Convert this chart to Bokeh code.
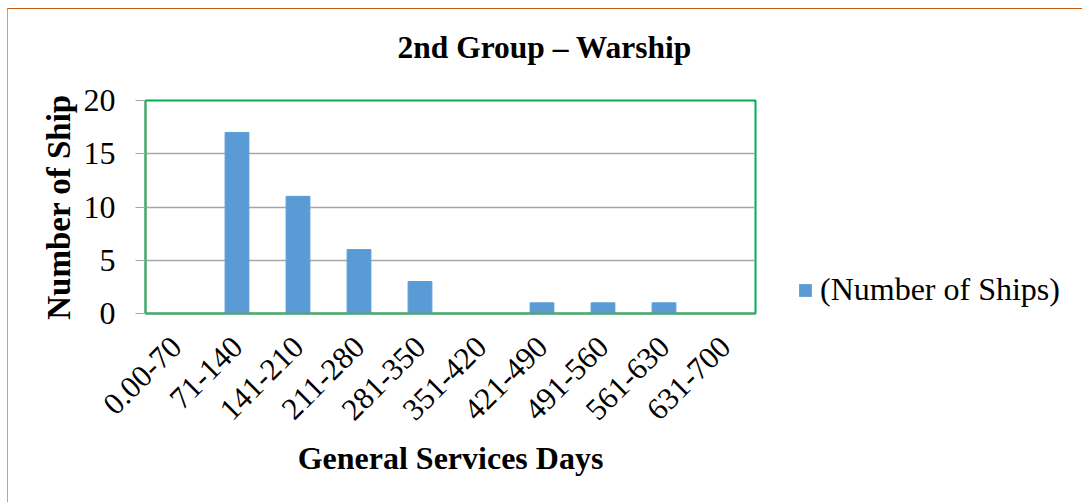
import math
from bokeh.plotting import figure
from bokeh.layouts import row
from bokeh.models import (FixedTicker, Range1d, FactorRange, Legend, LegendItem,
                          Title)
from bokeh.embed import file_html
from bokeh.resources import INLINE

categories = ["0.00-70", "71-140", "141-210", "211-280", "281-350",
              "351-420", "421-490", "491-560", "561-630", "631-700"]
ships = [0, 17, 11, 6, 3, 0, 1, 1, 1, 0]
y_ticks = [0, 5, 10, 15, 20]
title_text = "2nd Group \u2013 Warship"
x_title = "General Services Days"
y_title = "Number of Ship"
series_name = "(Number of Ships)"

SERIF = "Liberation Serif"
BAR = "#5B9BD5"

# main chart
p = figure(width=770, height=494, x_range=FactorRange(*categories),
           y_range=Range1d(0, 20), output_backend="svg", toolbar_location=None,
           min_border_left=137, min_border_right=23, min_border_top=91,
           min_border_bottom=190)
p.styles = {"margin-left": "7px", "margin-top": "8px",
            "border-left": "1px solid #E0996A", "border-top": "1px solid #C55A11"}

p.vbar(x=categories, top=ships, width=0.39, color=BAR, line_color=BAR)

p.outline_line_color = "#00B050"
p.outline_line_width = 2
p.background_fill_color = "white"
p.border_fill_color = "white"

p.xgrid.grid_line_color = None
p.ygrid.grid_line_color = "#A6A6A6"
p.ygrid.grid_line_width = 1.3
p.ygrid.ticker = FixedTicker(ticks=y_ticks)

p.yaxis.ticker = FixedTicker(ticks=y_ticks)
p.yaxis.axis_line_color = "#5E9E72"
p.yaxis.axis_line_width = 2
p.yaxis.major_tick_line_color = "#A6A6A6"
p.yaxis.major_tick_out = 10
p.yaxis.major_tick_in = 0
p.yaxis.minor_tick_line_color = None
p.yaxis.major_label_text_font = SERIF
p.yaxis.major_label_text_font_size = "32px"
p.yaxis.major_label_text_color = "black"
p.yaxis.major_label_standoff = 20
p.yaxis.axis_label = y_title
p.yaxis.axis_label_text_font = SERIF
p.yaxis.axis_label_text_font_size = "33px"
p.yaxis.axis_label_text_font_style = "bold"
p.yaxis.axis_label_text_color = "black"
p.yaxis.axis_label_standoff = 4

p.xaxis.axis_line_color = "#5E9E72"
p.xaxis.axis_line_width = 2
p.xaxis.major_tick_line_color = None
p.xaxis.minor_tick_line_color = None
p.xaxis.major_label_orientation = math.pi / 4
p.xaxis.major_label_text_font = SERIF
p.xaxis.major_label_text_font_size = "31px"
p.xaxis.major_label_text_color = "black"
p.xaxis.major_label_standoff = 22
p.xaxis.axis_label = x_title
p.xaxis.axis_label_text_font = SERIF
p.xaxis.axis_label_text_font_size = "32px"
p.xaxis.axis_label_text_font_style = "bold"
p.xaxis.axis_label_text_color = "black"
p.xaxis.axis_label_standoff = 8

# spacer between plot area and title (keeps the title high above the frame)
p.add_layout(Title(text=" ", text_font_size="16px", standoff=0), "above")

p.title.text = title_text
p.title.align = "left"
p.title.offset = 252
p.title.standoff = 34
p.title.text_font = SERIF
p.title.text_font_size = "31.5px"
p.title.text_font_style = "bold"
p.title.text_color = "black"

# legend panel to the right (its plot area is aligned with the main one)
q = figure(width=305, height=494, output_backend="svg", toolbar_location=None,
           x_axis_type=None, y_axis_type=None, min_border=0,
           min_border_left=0, min_border_right=0, min_border_top=0,
           min_border_bottom=0, x_range=Range1d(5, 6), y_range=Range1d(5, 6))
q.styles = {"margin-top": "8px", "border-top": "1px solid #C55A11"}
q.outline_line_color = None
q.xgrid.grid_line_color = None
q.ygrid.grid_line_color = None
q.background_fill_color = "white"
q.border_fill_color = "white"
# legend key only (kept outside the visible range)
lr = q.vbar(x=[0], top=[0], width=0, fill_color=BAR, line_color=None)

legend = Legend(items=[LegendItem(label=series_name, renderers=[lr])],
                location=(20, 5))
legend.border_line_color = None
legend.background_fill_alpha = 0
legend.padding = 0
legend.margin = 0
legend.glyph_width = 16
legend.glyph_height = 16
legend.label_standoff = 7
legend.label_text_font = SERIF
legend.label_text_font_size = "32px"
legend.label_text_color = "black"
q.add_layout(legend, "center")

layout = row(p, q)
open("out.html", "w").write(file_html(layout, INLINE))
